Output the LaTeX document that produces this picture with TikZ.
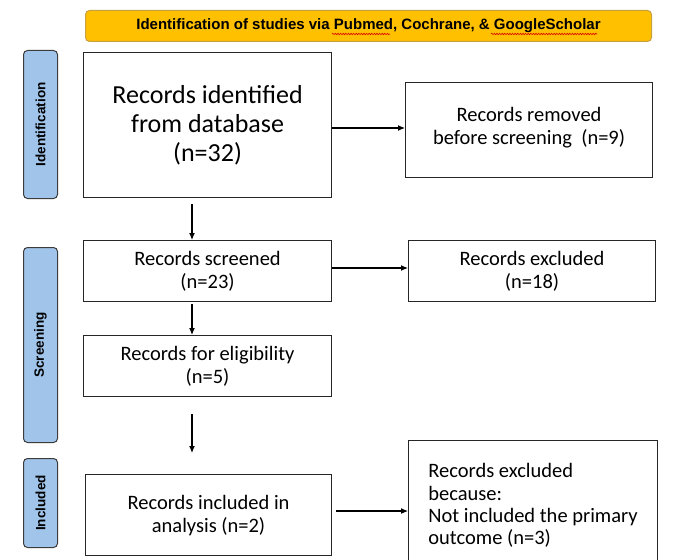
\documentclass[tikz,border=0pt]{standalone}
\usepackage{fontspec}
\setmainfont{Carlito}
\newfontfamily\labelfont{Liberation Sans}
\usetikzlibrary{arrows.meta,decorations.pathmorphing}
\definecolor{bannerfill}{HTML}{FFC000}
\definecolor{bannerline}{HTML}{C8A040}
\definecolor{phasefill}{HTML}{A0C4EA}
\definecolor{phaseline}{HTML}{3C3C3C}
\tikzset{
  box/.style={draw=black!85, line width=1.1pt, fill=white, anchor=north west, inner sep=0pt,
    align=center, font=\fontsize{20.5}{23}\selectfont},
  bigbox/.style={box, font=\fontsize{26}{29}\selectfont},
  phase/.style={draw=phaseline, line width=1pt, fill=phasefill, rounded corners=4pt, anchor=north west,
    minimum width=34pt, inner sep=0pt},
  phasetext/.style={rotate=90, font=\labelfont\bfseries\fontsize{13.5}{15}\selectfont},
  arr/.style={-{Latex[length=7pt,width=6pt]}, line width=1.1pt, black},
  squig/.style={red!85!black, line width=0.6pt, decorate, decoration={snake, amplitude=0.7pt, segment length=2.6pt}}
}
\begin{document}
\begin{tikzpicture}[x=1pt,y=-1pt]
\useasboundingbox (0,0) rectangle (674,559);
\fill[white] (0,0) rectangle (674,559);
\begin{scope}
\clip (0,0) rectangle (674,559);
% banner
\node[draw=bannerline, line width=1pt, fill=bannerfill, rounded corners=4pt, anchor=north west,
  minimum width=566pt, minimum height=31pt, inner sep=0pt,
  font=\labelfont\bfseries\fontsize{15}{16}\selectfont] (banner) at (85,10)
  {Identification of studies via Pubmed, Cochrane, \& GoogleScholar};
\draw[squig] (332,34) -- (390,34);
\draw[squig] (491,34) -- (597,34);
% phase labels
\node[phase, minimum height=148pt] (pid) at (23,50) {};
\node[phasetext] at (pid.center) {Identification};
\node[phase, minimum height=195pt] (psc) at (23,247) {};
\node[phasetext] at (psc.center) {Screening};
\node[phase, minimum height=89pt] (pin) at (23,458) {};
\node[phasetext] at (pin.center) {Included};
% boxes
\node[bigbox, minimum width=248pt, minimum height=145pt] (ident) at (83,52)
  {Records identified\\from database\\(n=32)};
\node[box, minimum width=247pt, minimum height=95pt, text depth=9pt] (removed) at (405,82)
  {Records removed\\before screening\ \ (n=9)};
\node[box, minimum width=248pt, minimum height=61pt] (screened) at (83,240)
  {Records screened\\(n=23)};
\node[box, minimum width=247pt, minimum height=61pt] (excl) at (408,240)
  {Records excluded\\(n=18)};
\node[box, minimum width=248pt, minimum height=61pt] (elig) at (83,335)
  {Records for eligibility\\(n=5)};
\node[box, minimum width=246pt, minimum height=81pt] (incl) at (85,474)
  {Records included in\\analysis (n=2)};
\node[box, align=left, minimum width=249pt, minimum height=130pt,
  font=\fontsize{20.5}{22.3}\selectfont] (exclb) at (408,440)
  {Records excluded\\because:\\Not included the primary\\outcome (n=3)};
% arrows
\draw[arr] (ident.east |- 0,128) -- (removed.west |- 0,128);
\draw[arr] (screened.east |- 0,268) -- (excl.west |- 0,268);
\draw[arr] ([xshift=4pt]incl.east |- 0,511) -- (exclb.west |- 0,511);
\draw[arr, shorten <=6pt] (ident.south -| 192,0) -- (screened.north -| 192,0);
\draw[arr, shorten <=2pt] (screened.south -| 192,0) -- (elig.north -| 192,0);
\draw[arr, shorten <=17pt, shorten >=21pt] (elig.south -| 192,0) -- (incl.north -| 192,0);
\end{scope}
\end{tikzpicture}
\end{document}
